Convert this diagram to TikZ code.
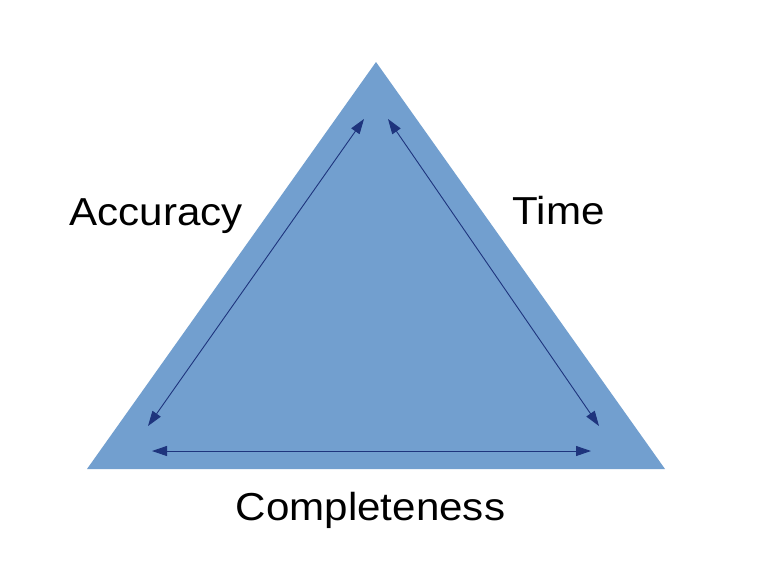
\documentclass[tikz,border=0pt]{standalone}
\usepackage{fontspec}
\setmainfont{Liberation Sans}
\usetikzlibrary{arrows.meta}
\definecolor{triblue}{HTML}{729FCF}
\definecolor{arrblue}{RGB}{30,52,125}
\tikzset{
  x=1pt,y=-1pt,
  tri/.style={fill=triblue,draw=none},
  dbl/.style={arrblue,line width=0.9pt,{Triangle[length=15pt,width=10pt]}-{Triangle[length=15pt,width=10pt]}},
  lbl/.style={anchor=base,inner sep=0pt,font=\fontsize{39}{45}\selectfont}
}
\begin{document}
\begin{tikzpicture}
\useasboundingbox (0,0) rectangle (768,576);
\fill[white] (0,0) rectangle (768,576);
\coordinate (top) at (376,62);
\coordinate (bl) at (87,469);
\coordinate (br) at (665,469);
\fill[tri] (top) -- (bl) -- (br) -- cycle;
\coordinate (lu) at (364,119);
\coordinate (ld) at (148,426);
\coordinate (ru) at (388,119);
\coordinate (rd) at (599,426);
\coordinate (bll) at (152,451);
\coordinate (brr) at (591,451);
\draw[dbl] (lu) -- (ld);
\draw[dbl] (ru) -- (rd);
\draw[dbl] (bll) -- (brr);
\node[lbl] (acc) at (156,225) {\scalebox{1.08}[1]{Accuracy}};
\node[lbl] (time) at (558.5,224) {\scalebox{1.08}[1]{Time}};
\node[lbl] (comp) at (370.5,520) {\scalebox{1.08}[1]{Completeness}};
\end{tikzpicture}
\end{document}
